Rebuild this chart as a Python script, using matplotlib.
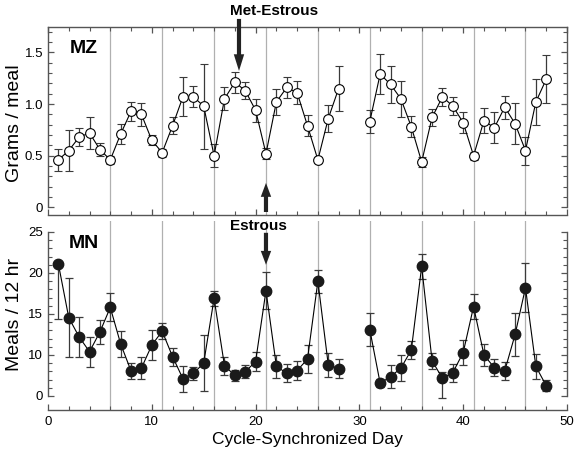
import numpy as np
import matplotlib
matplotlib.use('Agg')
import matplotlib.pyplot as plt
from matplotlib.ticker import MultipleLocator, FixedLocator

plt.rcParams['font.family'] = ['Liberation Sans', 'DejaVu Sans']

nan = np.nan

# day 1..48 of the synchronized cycle (no data on days 29 and 30)
days = np.arange(1, 49)

mz_mean = [0.46, 0.55, 0.68, 0.72, 0.56, 0.46, 0.71, 0.93, 0.90, 0.65,
           0.53, 0.79, 1.07, 1.07, 0.98, 0.50, 1.05, 1.21, 1.13, 0.94,
           0.52, 1.02, 1.16, 1.11, 0.79, 0.46, 0.86, 1.15, nan, nan,
           0.83, 1.29, 1.19, 1.05, 0.78, 0.44, 0.87, 1.07, 0.98, 0.82,
           0.50, 0.84, 0.77, 0.97, 0.81, 0.55, 1.02, 1.24]
mz_err = [0.11, 0.20, 0.09, 0.15, 0.065, 0.04, 0.10, 0.09, 0.11, 0.05,
          0.04, 0.08, 0.19, 0.10, 0.41, 0.11, 0.11, 0.10, 0.085, 0.11,
          0.055, 0.13, 0.105, 0.11, 0.10, 0.03, 0.13, 0.22, nan, nan,
          0.11, 0.19, 0.18, 0.175, 0.10, 0.045, 0.085, 0.085, 0.09, 0.10,
          0.04, 0.12, 0.15, 0.11, 0.20, 0.135, 0.22, 0.23]

mn_mean = [21.1, 14.55, 12.2, 10.4, 12.8, 15.8, 11.35, 8.05, 8.4, 11.2,
           12.9, 9.8, 7.1, 7.75, 9.0, 16.9, 8.7, 7.5, 7.95, 9.2,
           17.85, 8.65, 7.75, 8.1, 9.5, 19.0, 8.8, 8.35, nan, nan,
           13.1, 6.55, 7.35, 8.4, 10.6, 20.8, 9.3, 7.15, 7.85, 10.3,
           15.9, 10.0, 8.45, 8.05, 12.5, 18.2, 8.6, 6.25]
mn_err_lo = [6.7, 4.8, 2.45, 1.85, 1.5, 1.7, 1.6, 0.95, 1.35, 1.8,
             0.95, 1.1, 1.6, 0.8, 3.4, 0.9, 1.1, 0.65, 0.8, 1.2,
             2.25, 1.4, 1.1, 1.15, 1.7, 1.4, 1.5, 1.1, nan, nan,
             2.05, 0.5, 1.4, 1.55, 1.15, 1.5, 1.0, 2.45, 1.1, 1.5,
             1.5, 1.3, 1.0, 1.05, 2.6, 3.0, 1.5, 0.65]
mn_err_hi = [0.0, 4.8, 2.45, 1.85, 1.5, 1.7, 1.6, 0.95, 1.35, 1.8,
             0.95, 1.1, 1.6, 0.8, 3.4, 0.9, 1.1, 0.65, 0.8, 1.2,
             2.25, 1.4, 1.1, 1.15, 1.7, 1.4, 1.5, 1.1, nan, nan,
             2.05, 0.5, 1.4, 1.55, 1.15, 1.5, 1.0, 0.75, 1.1, 1.5,
             1.5, 1.3, 1.0, 1.05, 2.6, 3.0, 1.5, 0.65]

cycle_lines = [6, 11, 16, 21, 26, 31, 36, 41, 46]
mz_ticks = [0, 0.5, 1.0, 1.5]
mz_ticklabels = ['0', '0.5', '1.0', '1.5']
# the original axis is labelled this way (no "5" label)
mn_ticks = [5, 10, 15, 20, 25]
mn_ticklabels = ['0', '10', '15', '20', '25']

W, H = 577, 450
spine_col = '#555555'
bar_col = '#3a3a3a'

fig = plt.figure(figsize=(W / 100, H / 100), dpi=100)
ax1 = fig.add_axes([48 / W, (H - 215) / H, 519 / W, 188 / H])
ax2 = fig.add_axes([48 / W, 40 / H, 519 / W, 189 / H])


def style_axis(ax, ylo, yhi, top):
    ax.set_xlim(0, 50)
    for s in ax.spines.values():
        s.set_color(spine_col)
        s.set_linewidth(1.0)
    ax.spines['left'].set_bounds(ylo, yhi)
    ax.spines['right'].set_bounds(ylo, yhi)
    ax.spines['top'].set_visible(top)
    ax.xaxis.set_major_locator(MultipleLocator(10))
    ax.xaxis.set_minor_locator(MultipleLocator(2))
    ax.tick_params(which='both', direction='in', color=spine_col,
                   right=True, top=top, labelsize=9.5)
    ax.tick_params(which='major', length=4.5, width=0.9, pad=3.5)
    ax.tick_params(which='minor', length=3, width=0.8)
    ax.tick_params(axis='x', pad=4)
    for d in cycle_lines:
        ax.axvline(d, color='#b0b0b0', lw=0.9, zorder=0)


# top panel: grams per meal
ax1.set_ylim(-0.073, 1.745)
style_axis(ax1, 0, 1.745, True)
ax1.yaxis.set_major_locator(FixedLocator(mz_ticks))
ax1.set_yticklabels(mz_ticklabels)
ax1.yaxis.set_minor_locator(MultipleLocator(0.1))
ax1.tick_params(axis='x', labelbottom=False)
ax1.errorbar(days, mz_mean, yerr=mz_err, fmt='-', color='black', lw=0.8,
             ecolor=bar_col, elinewidth=0.9, capsize=2.6, capthick=0.9,
             marker='o', ms=7, mfc='white', mec='black', mew=0.8)
ax1.set_ylabel('Grams / meal', fontsize=14)
ax1.yaxis.set_label_coords(-0.049, 0.489)
fig.text(70 / W, 1 - 53 / H, 'MZ', fontsize=14, fontweight='bold',
         va='baseline', ha='left')

# bottom panel: meals per 12 hr
ax2.set_ylim(3.29, 26.34)
style_axis(ax2, 5, 25, False)
ax2.yaxis.set_major_locator(FixedLocator(mn_ticks))
ax2.set_yticklabels(mn_ticklabels)
ax2.yaxis.set_minor_locator(FixedLocator(np.arange(5, 26)))
ax2.errorbar(days, mn_mean, yerr=[mn_err_lo, mn_err_hi], fmt='-',
             color='black', lw=0.8, ecolor=bar_col, elinewidth=0.9,
             capsize=2.6, capthick=0.9, marker='o', ms=7.5,
             mfc='#1a1a1a', mec='#1a1a1a')
ax2.set_ylabel('Meals / 12 hr', fontsize=14)
ax2.yaxis.set_label_coords(-0.049, 0.503)
ax2.set_xlabel('Cycle-Synchronized Day', fontsize=12.5)
ax2.xaxis.set_label_coords(0.5, -0.115)
fig.text(69 / W, 1 - 248 / H, 'MN', fontsize=14, fontweight='bold',
         va='baseline', ha='left')

# phase arrows
fig.text(230 / W, 1 - 15 / H, 'Met-Estrous', fontsize=11, fontweight='bold',
         va='baseline', ha='left')
fig.text(230 / W, 1 - 230 / H, 'Estrous', fontsize=11, fontweight='bold',
         va='baseline', ha='left')
arrow = dict(arrowstyle='simple,head_length=1.2,head_width=0.75,tail_width=0.3',
             mutation_scale=10, fc='#222222', ec='none', shrinkA=0, shrinkB=0)
ax1.annotate('', xy=(18.4, 1.32), xytext=(18.4, 1.823), arrowprops=arrow,
             annotation_clip=False)
arrow2 = dict(arrow, arrowstyle='simple,head_length=1.0,head_width=0.75,tail_width=0.3')
ax1.annotate('', xy=(21, 0.237), xytext=(21, -0.044), arrowprops=arrow2,
             annotation_clip=False)
ax2.annotate('', xy=(21, 21.0), xytext=(21, 24.9), arrowprops=arrow2,
             annotation_clip=False)

fig.savefig('out.png', dpi=100)
